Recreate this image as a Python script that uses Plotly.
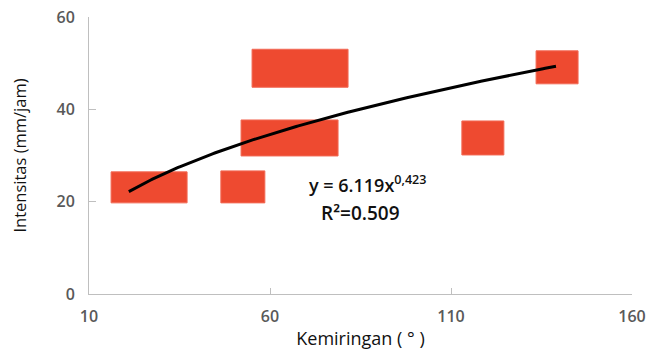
import plotly.graph_objects as go
import numpy as np

# Data
slope_deg = [26.6, 52.5, 68.3, 65.4, 118.8, 139.3]
intensity = [23.1, 23.2, 48.9, 33.8, 33.8, 49.1]
trend_coef = 6.119
trend_exp = 0.423
trend_x_range = [21, 139]
x_ticks = [10, 60, 110, 160]
y_ticks = [0, 20, 40, 60]

# Marker sizes in pixels (width, height) - styling
marker_px = [(76, 31), (44, 32), (96, 38), (97, 36), (42, 34), (42, 33)]
red = "#EE4A30"

fig = go.Figure()

fig.add_trace(go.Scatter(x=slope_deg, y=intensity, mode="markers",
                         marker=dict(size=1, color=red, opacity=0), showlegend=False))

shapes = []
for xv, yv, (w, h) in zip(slope_deg, intensity, marker_px):
    shapes.append(dict(type="rect", xref="x", yref="y",
                       xsizemode="pixel", ysizemode="pixel",
                       xanchor=xv, yanchor=yv,
                       x0=-w / 2, x1=w / 2, y0=-h / 2, y1=h / 2,
                       fillcolor=red, line=dict(color="#F26A55", width=1), layer="below"))

tx = np.linspace(trend_x_range[0], trend_x_range[1], 200)
ty = trend_coef * tx ** trend_exp
fig.add_trace(go.Scatter(x=tx, y=ty, mode="lines",
                         line=dict(color="black", width=3), showlegend=False))

ann_font = dict(family="Open Sans", size=18, color="#111111", weight=600)
fig.update_layout(
    template="none",
    width=652, height=342,
    margin=dict(l=81, r=28, t=9, b=56),
    plot_bgcolor="white", paper_bgcolor="white",
    shapes=shapes,
    font=dict(family="Open Sans", color="#595959"),
    annotations=[
        dict(x=70.2, y=23.8, xref="x", yref="y", xanchor="left", yanchor="middle",
             text="y = 6.119x<sup>0,423</sup>", showarrow=False, font=ann_font),
        dict(x=73.5, y=17.6, xref="x", yref="y", xanchor="left", yanchor="middle",
             text="R²=0.509", showarrow=False,
             font=dict(family="Open Sans", size=19, color="#111111", weight=600)),
    ],
)
fig.update_xaxes(range=[10, 160], tickvals=x_ticks, ticks="inside", ticklen=6,
                 tickcolor="#BFBFBF", showline=True, linecolor="#BFBFBF", linewidth=1,
                 showgrid=False, zeroline=False, automargin=False,
                 ticklabelstandoff=8, ticklabeloverflow="allow",
                 tickfont=dict(family="Open Sans", size=16, color="#595959", weight=600),
                 title=dict(text="Kemiringan ( ° )", standoff=6,
                            font=dict(family="Open Sans", size=18, color="#111111")))
fig.update_yaxes(range=[0, 60], tickvals=y_ticks, ticks="inside", ticklen=7,
                 tickcolor="#BFBFBF", showline=True, linecolor="#BFBFBF", linewidth=1,
                 showgrid=False, zeroline=False, automargin=False,
                 ticklabelstandoff=10, ticklabeloverflow="allow",
                 tickfont=dict(family="Open Sans", size=16, color="#595959", weight=600),
                 title=dict(text="Intensitas (mm/jam)", standoff=26,
                            font=dict(family="Open Sans", size=16.5, color="#111111")))

fig.write_html("out.html")
